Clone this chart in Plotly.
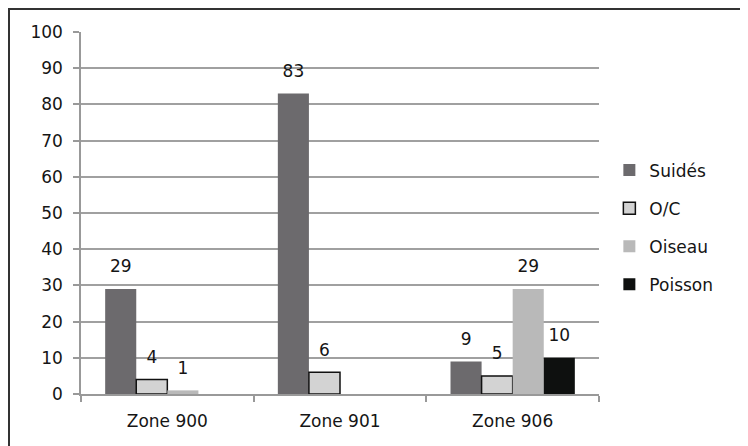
import plotly.graph_objects as go

categories = ["Zone 900", "Zone 901", "Zone 906"]
series_names = ["Suidés", "O/C", "Oiseau", "Poisson"]
suides = [29, 83, 9]
oc = [4, 6, 5]
oiseau = [1, 0, 29]
poisson = [0, 0, 10]
y_ticks = [0, 10, 20, 30, 40, 50, 60, 70, 80, 90, 100]

series_values = [suides, oc, oiseau, poisson]
colors = ["#6c6a6d", "#d3d3d3", "#b9b9b9", "#0e100f"]
line_colors = ["#6c6a6d", "#111111", "#b9b9b9", "#0e100f"]
line_widths = [0, 1.5, 0, 0]

FONT = "DejaVu Sans"
TXT = "#151515"

fig = go.Figure()
for name, vals, c, lc, lw in zip(series_names, series_values, colors, line_colors, line_widths):
    fig.add_trace(go.Bar(
        name=name,
        x=categories,
        y=vals,
        text=[f"<span style='font-size:17px'>{v}</span><br> " if v else "" for v in vals],
        textposition="outside",
        texttemplate="%{text}",
        cliponaxis=False,
        textfont=dict(family=FONT, size=9, color=TXT),
        marker=dict(color=c, line=dict(color=lc, width=lw)),
        legendgroup=name,
    ))

fig.update_layout(
    width=748, height=446,
    margin=dict(l=73, r=157, t=24, b=60),
    paper_bgcolor="white", plot_bgcolor="white",
    barmode="group", bargap=0.28, bargroupgap=0,
    font=dict(family=FONT, size=17, color=TXT),
    showlegend=True,
    legend=dict(x=1.02, xanchor="left", y=0.46, yanchor="middle",
                traceorder="grouped", tracegroupgap=13,
                font=dict(family=FONT, size=17, color=TXT),
                itemwidth=30, bgcolor="rgba(0,0,0,0)"),
    uniformtext=dict(mode=False),
)
fig.update_xaxes(
    showline=True, linecolor="#999", linewidth=1.5,
    ticks="outside", tickson="boundaries", ticklen=6, tickcolor="#999", tickwidth=1.5,
    ticklabelstandoff=11,
    tickfont=dict(family=FONT, size=17, color=TXT),
    showgrid=False,
)
fig.update_yaxes(
    range=[0, 100], tickvals=y_ticks,
    showline=True, linecolor="#999", linewidth=1.5,
    ticks="outside", ticklen=6, tickcolor="#999", tickwidth=1.5,
    ticklabelstandoff=7,
    showgrid=True, gridcolor="#a0a0a0", gridwidth=1.5,
    zeroline=False,
    tickfont=dict(family=FONT, size=17, color=TXT),
)
fig.add_shape(type="rect", xref="paper", yref="paper",
              x0=-72/518, x1=1.6, y0=-0.3, y1=1 + 23/362,
              line=dict(color="#333", width=2), fillcolor="rgba(0,0,0,0)", layer="below")

fig.write_html("out.html")
